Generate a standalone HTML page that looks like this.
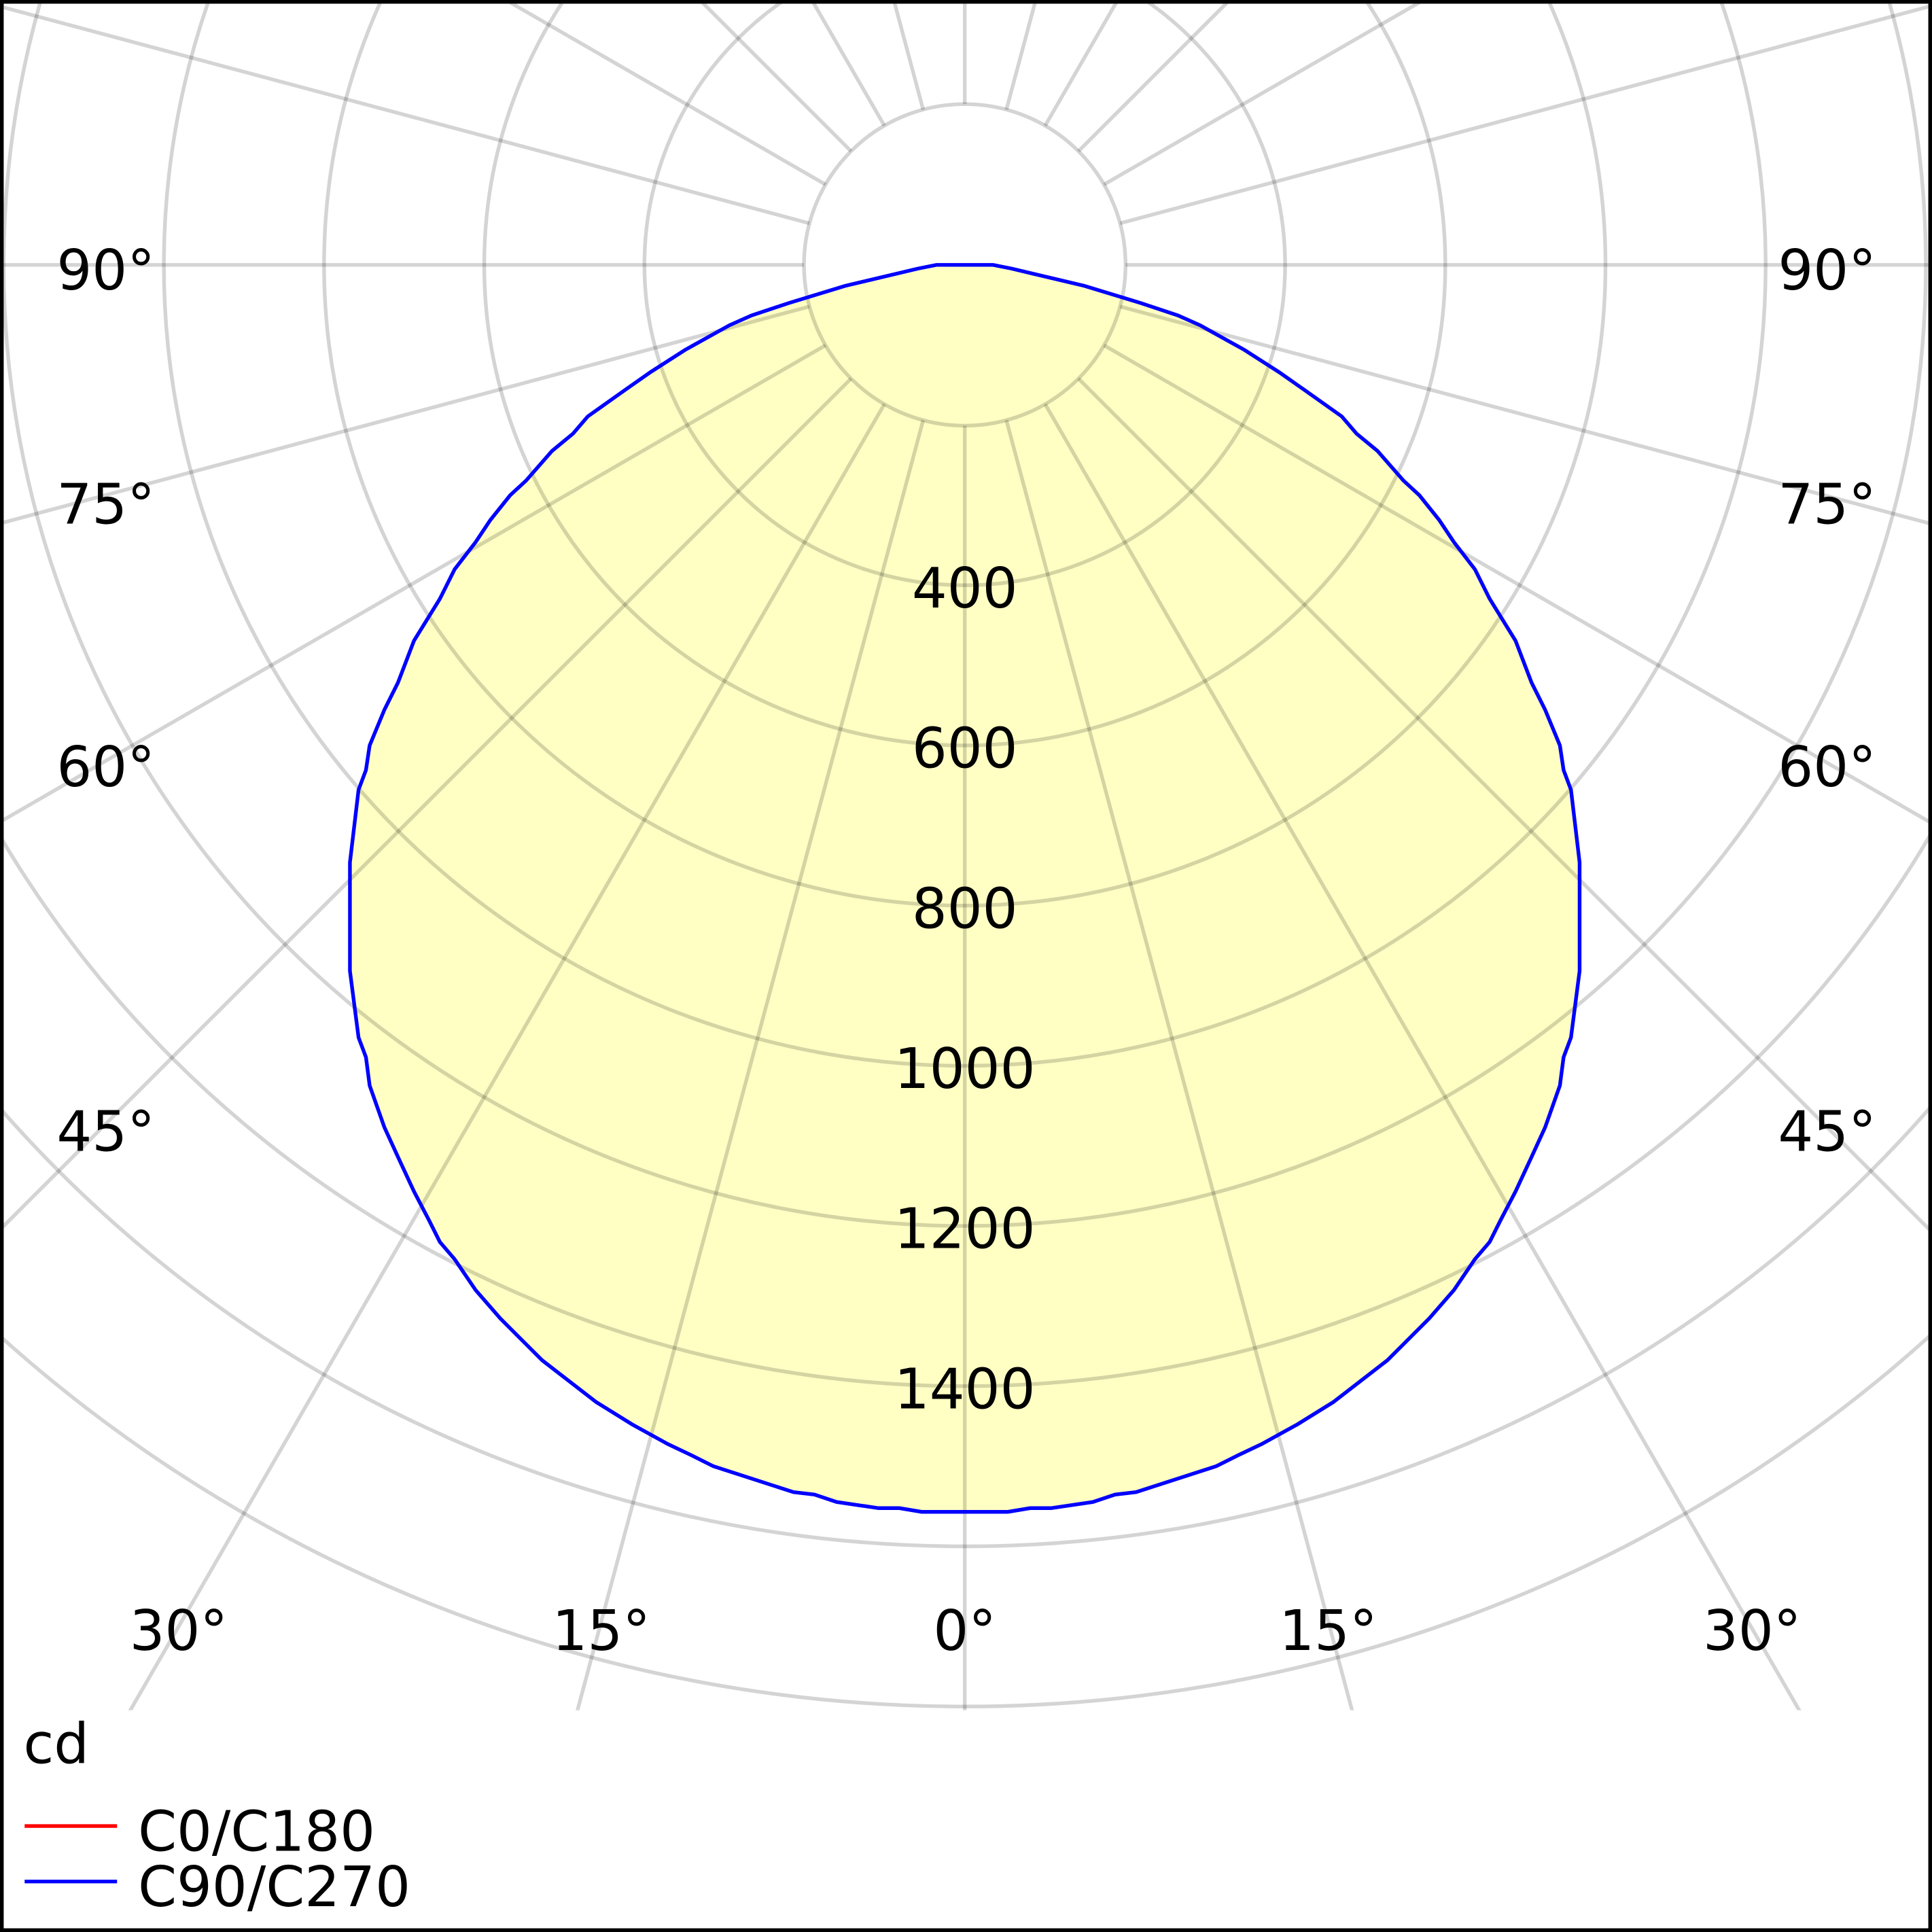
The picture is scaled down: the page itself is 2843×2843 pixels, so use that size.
<!DOCTYPE html>
<html><head><meta charset="utf-8"><style>
html,body{margin:0;padding:0;background:#fff;overflow:hidden;width:2843px;height:2843px}
svg{display:block}
text{font-family:"DejaVu Sans","Liberation Sans",sans-serif;font-size:45px;fill:#000}
</style></head><body>
<svg width="2843" height="2843" viewBox="0 0 1568 1568" xmlns="http://www.w3.org/2000/svg">
<defs><clipPath id="c"><rect x="3" y="3" width="1562" height="1385"/></clipPath></defs>
<rect x="0" y="0" width="1568" height="1568" fill="#fff"/>
<g clip-path="url(#c)">
<polygon id="curve" fill="#ffffc4" stroke="none" points=""/>
<g fill="none" stroke="rgba(0,0,0,0.17)" stroke-width="3">
<circle cx="783" cy="215" r="130.5"/>
<circle cx="783" cy="215" r="260"/>
<circle cx="783" cy="215" r="390"/>
<circle cx="783" cy="215" r="520"/>
<circle cx="783" cy="215" r="650"/>
<circle cx="783" cy="215" r="780"/>
<circle cx="783" cy="215" r="910"/>
<circle cx="783" cy="215" r="1040"/>
<circle cx="783" cy="215" r="1170"/>
<g id="rad"></g>
</g>
<polygon id="line" fill="none" stroke="#0000ff" stroke-width="3" points=""/>
</g>
<text x="46" y="235">90°</text><text x="1443" y="235">90°</text>
<text x="46" y="425">75°</text><text x="1443" y="425">75°</text>
<text x="46" y="638">60°</text><text x="1443" y="638">60°</text>
<text x="46" y="934">45°</text><text x="1443" y="934">45°</text>
<g text-anchor="middle">
<text x="145" y="1339">30°</text><text x="488" y="1339">15°</text><text x="783" y="1339">0°</text>
<text x="1078" y="1339">15°</text><text x="1422" y="1339">30°</text>
<text x="783" y="493">400</text><text x="783" y="623">600</text><text x="783" y="753">800</text>
<text x="783" y="883">1000</text><text x="783" y="1013">1200</text><text x="783" y="1143">1400</text>
</g>
<text x="19" y="1431">cd</text>
<line x1="20" y1="1482" x2="95" y2="1482" stroke="#ff0000" stroke-width="3"/>
<text x="112" y="1502">C0/C180</text>
<line x1="20" y1="1527" x2="95" y2="1527" stroke="#0000ff" stroke-width="3"/>
<text x="112" y="1547">C90/C270</text>
<rect x="1.5" y="1.5" width="1565" height="1565" fill="none" stroke="#000" stroke-width="3"/>
</svg>
<script>
var L=[[783,215],[760,215],[745,218],[686,232],[640,246],[610,256],[592,264],[556,284],[528,302],[508,316],[477,338],[465,352],[448,366],[427,390],[414,402],[398,422],[386,440],[369,462],[357,486],[336,520],[323,554],[312,576],[300,605],[297,625],[291,641],[284,700],[284,788],[291,842],[297,858],[300,881],[312,915],[323,939],[336,967],[348,990],[357,1008],[369,1022],[386,1047],[406,1070],[427,1091],[440,1104],[484,1138],[513,1156],[542,1172],[561,1181],[579,1190],[644,1211],[661,1213],[679,1219],[713,1224],[730,1224],[748,1227],[783,1227]];
var pts=L.map(function(p){return p[0]+","+p[1];});
for(var i=L.length-2;i>=1;i--)pts.push((1566-L[i][0])+","+L[i][1]);
document.getElementById('curve').setAttribute('points',pts.join(' '));
document.getElementById('line').setAttribute('points',pts.join(' '));
var cx=783,cy=215,g=document.getElementById('rad'),s='';
for(var a=0;a<360;a+=15){var t=a*Math.PI/180;
s+='<line x1="'+(cx+130.5*Math.sin(t))+'" y1="'+(cy+130.5*Math.cos(t))+'" x2="'+(cx+2000*Math.sin(t))+'" y2="'+(cy+2000*Math.cos(t))+'"/>';}
g.innerHTML=s;
</script>
</body></html>
